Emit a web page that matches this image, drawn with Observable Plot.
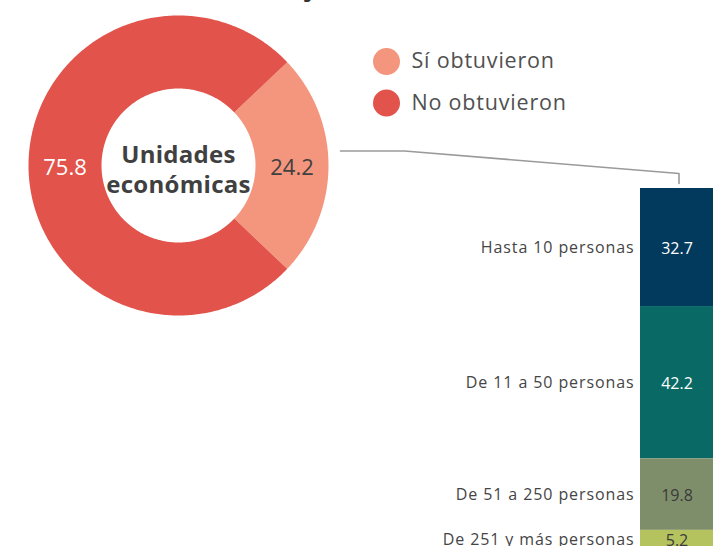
<!DOCTYPE html>
<html><head><meta charset="utf-8">
<script src="https://cdn.jsdelivr.net/npm/d3@7"></script>
<script src="https://cdn.jsdelivr.net/npm/@observablehq/plot@0.6"></script>
<style>
body{margin:0;background:#fff;}
#chart{position:relative;width:723px;height:546px;overflow:hidden;font-family:"Open Sans",sans-serif;}
#chart svg{position:absolute;left:0;top:0;}
</style></head><body><div id="chart"></div>
<script>
// ---- data ----
const title = "(Porcentaje)";
const donutLabels = ["Sí obtuvieron", "No obtuvieron"];
const donutValues = [24.2, 75.8];
const centerText = ["Unidades", "económicas"];
const sizeLabels = ["Hasta 10 personas", "De 11 a 50 personas", "De 51 a 250 personas", "De 251 y más personas"];
const sizeValues = [32.7, 42.2, 19.8, 5.2];

// ---- styles ----
const donutColors = ["#f4967d", "#e2534b"];
const donutTextColors = ["#404040", "#ffffff"];
const sizeColors = ["#023a5e", "#086965", "#7f8e6a", "#b5c35f"];
const sizeTextColors = ["#ffffff", "#ffffff", "#3a3a3a", "#3a3a3a"];
const FONT = "Open Sans";

// ---- layout ----
const W = 723, H = 546;
const cx = 178, cy = 165, R = 150, Rin = 77;
const barX1 = 640, barX2 = 713, barTop = 188, barBottom = 549;

// donut geometry from data
const total = d3.sum(donutValues);
const start = Math.PI / 2 - Math.PI * donutValues[0] / total;
const arcs = d3.pie().sort(null).startAngle(start).endAngle(start + 2 * Math.PI)(donutValues);
const pt = (t, rad) => ({x: cx + rad * Math.sin(t), y: cy - rad * Math.cos(t)});
const ring = arcs.flatMap((a, i) => {
  const n = Math.max(12, Math.ceil((a.endAngle - a.startAngle) * 80));
  const pts = [];
  for (let k = 0; k <= n; k++) { const t = a.startAngle + (a.endAngle - a.startAngle) * k / n; pts.push({slice: donutLabels[i], ...pt(t, R)}); }
  for (let k = n; k >= 0; k--) { const t = a.startAngle + (a.endAngle - a.startAngle) * k / n; pts.push({slice: donutLabels[i], ...pt(t, Rin)}); }
  return pts;
});
const sliceLabels = arcs.map((a, i) => ({slice: donutLabels[i], value: donutValues[i], ...pt((a.startAngle + a.endAngle) / 2, (R + Rin) / 2), color: donutTextColors[i]}));

// connector: from right of the donut to the top of the bar
const barMid = (barX1 + barX2) / 2 + 2;
const connector = [
  {x: cx + R + 12, y: cy - 14.5},
  {x: cx + R + 76, y: cy - 14.5},
  {x: barMid, y: barTop - 15},
  {x: barMid, y: barTop - 5}
];

const legend = donutLabels.map((d, i) => ({label: d, i}));

const plotA = Plot.plot({
  width: W, height: H,
  margin: 0,
  x: {domain: [0, W], range: [0, W], axis: null},
  y: {domain: [0, H], range: [0, H], axis: null},
  color: {domain: donutLabels, range: donutColors},
  style: {fontFamily: FONT, background: "transparent"},
  marks: [
    Plot.text([title], {x: 262, y: -12, text: d => d, fontSize: 24, fontWeight: "bold", fill: "#333", lineAnchor: "middle"}),
    Plot.line(ring, {x: "x", y: "y", z: "slice", fill: "slice", stroke: "none", curve: "linear"}),
    Plot.text(sliceLabels, {x: "x", y: "y", text: d => d.value.toFixed(1), fill: d => d.color, fontSize: 22, dy: 2}),
    Plot.text([centerText.join("\n")], {x: cx, y: cy, text: d => d, fontSize: 24, fontWeight: "bold", fill: "#404040", lineHeight: 1.25, dy: 3}),
    Plot.dot(legend, {x: 386, y: d => 61 + d.i * 41.5, r: 13.5, fill: "label", stroke: "none"}),
    Plot.text(legend, {x: 411, y: d => 61 + d.i * 41.5, text: "label", textAnchor: "start", fontSize: 21.5, fill: "#505050", dy: 0}),
    Plot.line(connector, {x: "x", y: "y", stroke: "#9a9a9a", strokeWidth: 1.6})
  ]
});
plotA.querySelectorAll("text").forEach(t => {
  const s = t.textContent;
  if (donutLabels.includes(s)) t.style.letterSpacing = "0.8px";
  if (s === centerText.join("")) t.style.letterSpacing = "0.3px";
});

const sizeData = sizeLabels.map((d, i) => ({cat: d, value: sizeValues[i], tc: sizeTextColors[i]}));

const plotB = Plot.plot({
  width: W, height: H,
  margin: 0,
  x: {domain: [0, W], range: [0, W], axis: null},
  y: {domain: [0, 100], range: [barTop, barBottom], axis: null},
  color: {domain: sizeLabels, range: sizeColors},
  style: {fontFamily: FONT, background: "transparent"},
  marks: [
    Plot.rectY(sizeData, {x1: barX1, x2: barX2, y: "value", fill: "cat", order: null}),
    Plot.text(sizeData, Plot.stackY({x: (barX1 + barX2) / 2, y: "value", text: d => d.value.toFixed(1), fill: "tc", fontSize: 16, order: null, dy: 1})),
    Plot.text(sizeData, Plot.stackY({x: barX1 - 6, y: "value", text: "cat", textAnchor: "end", fill: "#454545", fontSize: 16, order: null, dy: 0, className: "catlab"}))
  ]
});
plotB.querySelectorAll(".catlab text").forEach(t => t.style.letterSpacing = "0.9px");

const el = document.getElementById("chart");
el.appendChild(plotA);
el.appendChild(plotB);
</script>
</body></html>
